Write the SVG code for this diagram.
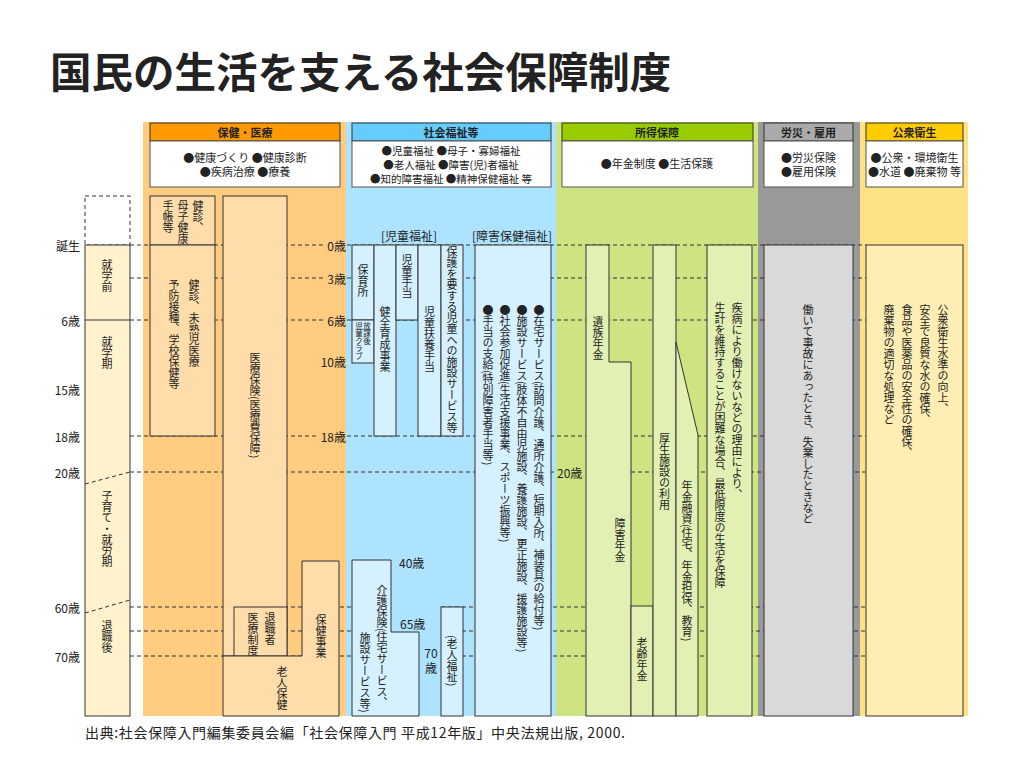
<svg xmlns="http://www.w3.org/2000/svg" width="1024" height="768" viewBox="0 0 1024 768">
<defs>
<style>
text { font-family: "Noto Sans CJK JP", "Noto Sans", sans-serif; fill: #222; }
.v { writing-mode: vertical-rl; font-size: 11px; }
.vs { writing-mode: vertical-rl; font-size: 7.5px; }
.age { font-size: 12px; dominant-baseline: central; }
.agel { font-size: 12px; dominant-baseline: central; text-anchor: end; }
.hd { font-size: 11px; font-weight: bold; text-anchor: middle; dominant-baseline: central; }
.ds { font-size: 11px; text-anchor: middle; dominant-baseline: central; }
.ds3 { font-size: 10.5px; text-anchor: middle; dominant-baseline: central; }
.box { stroke: #333; stroke-width: 1; }
.desc { fill: #fff; stroke: #555; stroke-width: 1; }
.dash { stroke: #333; stroke-width: 1; stroke-dasharray: 4 3; fill: none; }
.ob { fill: #FFDDAA; }
.bb { fill: #D5F0FF; }
.gb { fill: #E2F0B4; }
</style>
</defs>
<rect x="0" y="0" width="1024" height="768" fill="#fff"/>
<text x="50" y="88" font-size="41.5" font-weight="bold" fill="#000">国民の生活を支える社会保障制度</text>

<g id="bands">
<rect x="143" y="122" width="203" height="594" fill="#FFCC80"/>
<rect x="346" y="122" width="210" height="594" fill="#AEE3FF"/>
<rect x="556" y="122" width="202" height="594" fill="#CEE482"/>
<rect x="758" y="122" width="102" height="594" fill="#999999"/>
<rect x="860" y="122" width="108" height="594" fill="#FFE285"/>
</g>

<g id="headers">
<g id="h-health">
<rect class="box" x="150" y="123" width="190" height="18" fill="#FF9900"/>
<text class="hd" x="245" y="132">保健・医療</text>
<rect class="desc" x="150" y="141" width="190" height="46"/>
<text class="ds" x="245" y="157">●健康づくり ●健康診断</text>
<text class="ds" x="245" y="171">●疾病治療 ●療養</text>
</g>
<g id="h-welfare">
<rect class="box" x="352" y="123" width="199" height="18" fill="#66CCFF"/>
<text class="hd" x="451" y="132">社会福祉等</text>
<rect class="desc" x="352" y="141" width="199" height="46"/>
<text class="ds3" x="451" y="150">●児童福祉 ●母子・寡婦福祉</text>
<text class="ds3" x="451" y="164">●老人福祉 ●障害(児)者福祉</text>
<text class="ds3" x="451" y="178">●知的障害福祉 ●精神保健福祉 等</text>
</g>
<g id="h-income">
<rect class="box" x="562" y="123" width="191" height="18" fill="#99CC00"/>
<text class="hd" x="657" y="132">所得保障</text>
<rect class="desc" x="562" y="141" width="191" height="46"/>
<text class="ds" x="657" y="163">●年金制度 ●生活保護</text>
</g>
<g id="h-labor">
<rect class="box" x="764" y="123" width="89" height="18" fill="#AAAAAA"/>
<text class="hd" x="808.5" y="132">労災・雇用</text>
<rect class="desc" x="764" y="141" width="89" height="46"/>
<text class="ds" x="808.5" y="157">●労災保険</text>
<text class="ds" x="808.5" y="171">●雇用保険</text>
</g>
<g id="h-public">
<rect class="box" x="866" y="123" width="97" height="18" fill="#FFCC00"/>
<text class="hd" x="914.5" y="132">公衆衛生</text>
<rect class="desc" x="866" y="141" width="97" height="46"/>
<text class="ds" x="914.5" y="157">●公衆・環境衛生</text>
<text class="ds" x="914.5" y="171">●水道 ●廃棄物 等</text>
</g>
</g>

<g id="connectors">
<path class="dash" d="M130,245H326 M347,245H866 M130,278H326 M347,278H866 M130,320H326 M347,320H866 M130,436H318 M347,436H866 M130,472H555 M589,472H866 M130,607H391 M441,607H866 M130,631H391 M441,631H866 M130,656H391 M441,656H866"/>
</g>

<g id="timeline">
<rect x="85" y="196" width="45" height="49" fill="none" stroke="#333" stroke-dasharray="4 3"/>
<rect class="box" x="85" y="245" width="45" height="471" fill="#FFF2CC"/>
<line x1="85" y1="320" x2="130" y2="320" stroke="#333"/>
<line class="dash" x1="85" y1="484" x2="130" y2="472"/>
<line class="dash" x1="85" y1="613" x2="130" y2="600"/>
<text class="v" x="107" y="259">就学前</text>
<text class="v" x="107" y="336">就学期</text>
<text class="v" x="107" y="490">子育て・就労期</text>
<text class="v" x="107" y="620">退職後</text>
<text class="agel" x="80" y="245">誕生</text>
<text class="agel" x="80" y="320">6歳</text>
<text class="agel" x="80" y="389">15歳</text>
<text class="agel" x="80" y="436">18歳</text>
<text class="agel" x="80" y="472">20歳</text>
<text class="agel" x="80" y="607">60歳</text>
<text class="agel" x="80" y="656">70歳</text>
</g>

<g id="ages-health">
<text class="agel" x="346" y="245">0歳</text>
<text class="agel" x="346" y="278">3歳</text>
<text class="agel" x="346" y="320">6歳</text>
<text class="agel" x="346" y="361">10歳</text>
<text class="agel" x="346" y="436">18歳</text>
</g>

<g id="n-checkup-infant">
<rect class="box ob" x="150" y="196" width="65" height="49"/>
<text class="v" x="198" y="200">健診、</text>
<text class="v" x="183" y="200">母子健康</text>
<text class="v" x="168" y="200">手帳等</text>
</g>
<g id="n-checkup-child">
<rect class="box ob" x="150" y="245" width="65" height="191"/>
<text class="v" x="194" y="279">健診、未熟児医療</text>
<text class="v" x="174" y="279">予防接種、学校保健等</text>
</g>
<g id="n-medical-insurance">
<rect class="box ob" x="223" y="196" width="64" height="460"/>
<text class="v" x="255" y="352">医療保険(医療費保障)</text>
</g>
<g id="n-retiree">
<rect class="box ob" x="234" y="607" width="53" height="49"/>
<text class="v" x="270" y="612">退職者</text>
<text class="v" x="253" y="612">医療制度</text>
</g>
<g id="n-elderly-health">
<polygon class="box ob" points="223,656 302,656 302,561 339,561 339,716 223,716"/>
<text class="v" x="321" y="614">保健事業</text>
<text class="v" x="282" y="666">老人保健</text>
</g>

<g id="welfare-labels">
<text class="age" x="381" y="235" font-size="11">[児童福祉]</text>
<text class="age" x="472" y="235" font-size="11">[障害保健福祉]</text>
<text class="age" x="399" y="562">40歳</text>
<text class="age" x="400" y="623">65歳</text>
<text class="age" x="431" y="652" text-anchor="middle" font-size="11.5">70</text>
<text class="age" x="431" y="667" text-anchor="middle" font-size="11.5">歳</text>
</g>

<g id="n-nursery">
<rect class="box bb" x="352" y="245" width="22" height="75"/>
<text class="v" x="363" y="264">保育所</text>
</g>
<g id="n-afterschool">
<rect class="box bb" x="352" y="320" width="22" height="43"/>
<text class="vs" x="367" y="322">放課後</text>
<text class="vs" x="359" y="322">児童クラブ</text>
</g>
<g id="n-healthy-growth">
<rect class="box bb" x="374" y="245" width="22" height="191"/>
<text class="v" x="385" y="306">健全育成事業</text>
</g>
<g id="n-child-allowance">
<rect class="box bb" x="396" y="245" width="22" height="75"/>
<text class="v" x="407" y="254">児童手当</text>
</g>
<g id="n-child-support">
<rect class="box bb" x="418" y="245" width="23" height="191"/>
<text class="v" x="429.5" y="306">児童扶養手当</text>
</g>
<g id="n-child-facility">
<rect class="box bb" x="441" y="245" width="22" height="191"/>
<text class="v" x="452" y="246">保護を要する児童への施設サービス等</text>
</g>
<g id="n-disability">
<rect class="box bb" x="475" y="245" width="76" height="471"/>
<text class="v" x="539" y="304">●在宅サービス(訪問介護、通所介護、短期入所、補装具の給付等)</text>
<text class="v" x="522" y="304">●施設サービス(肢体不自由児施設、養護施設、更正施設、援護施設等)</text>
<text class="v" x="505" y="304">●社会参加促進(生活支援事業、スポーツ振興等)</text>
<text class="v" x="488" y="304">●手当の支給(特別障害者手当等)</text>
</g>
<g id="n-care-insurance">
<polygon class="box bb" points="352,560 391,560 391,632 419,632 419,716 352,716"/>
<text class="v" x="382" y="584">介護保険(住宅サービス、</text>
<text class="v" x="365" y="632">施設サービス等)</text>
</g>
<g id="n-elderly-welfare">
<rect class="box bb" x="441" y="607" width="22" height="109"/>
<text class="v" x="452" y="635">(老人福祉)</text>
</g>

<g id="n-survivor-disability-pension">
<polygon class="box gb" points="586,245 609,245 609,362 631,362 631,716 586,716"/>
<text class="v" x="598" y="316">遺族年金</text>
<text class="v" x="620" y="518">障害年金</text>
</g>
<g id="n-old-age-pension">
<rect class="box gb" x="631" y="606" width="22" height="110"/>
<text class="v" x="642" y="637">老齢年金</text>
</g>
<g id="n-welfare-facility">
<rect class="box gb" x="653" y="245" width="23" height="471"/>
<text class="v" x="664.5" y="433">厚生施設の利用</text>
</g>
<g id="n-pension-loan">
<polygon class="box gb" points="676,342 698,435 698,716 676,716"/>
<text class="v" x="687" y="480">年金融資(住宅、年金担保、教育)</text>
</g>
<g id="n-livelihood">
<rect class="box gb" x="707" y="245" width="45" height="471"/>
<text class="v" x="737" y="302">疾病により働けないなどの理由により、</text>
<text class="v" x="720" y="302">生計を維持することが困難な場合、最低限度の生活を保障</text>
</g>
<text class="age" x="557" y="472">20歳</text>

<g id="n-labor">
<rect class="box" x="764" y="245" width="89" height="471" fill="#D9D9D9"/>
<text class="v" x="808" y="304">働いて事故にあったとき、失業したときなど</text>
</g>
<g id="n-public">
<rect class="box" x="866" y="245" width="97" height="471" fill="#FFEEB3"/>
<text class="v" x="943" y="304">公衆衛生水準の向上、</text>
<text class="v" x="925" y="304">安全で良質な水の確保、</text>
<text class="v" x="907" y="304">食品や医薬品の安全性の確保、</text>
<text class="v" x="889" y="304">廃棄物の適切な処理など</text>
</g>

<text x="85" y="732" font-size="14" dominant-baseline="central" textLength="540" lengthAdjust="spacing">出典:社会保障入門編集委員会編「社会保障入門 平成12年版」中央法規出版, 2000.</text>
</svg>
